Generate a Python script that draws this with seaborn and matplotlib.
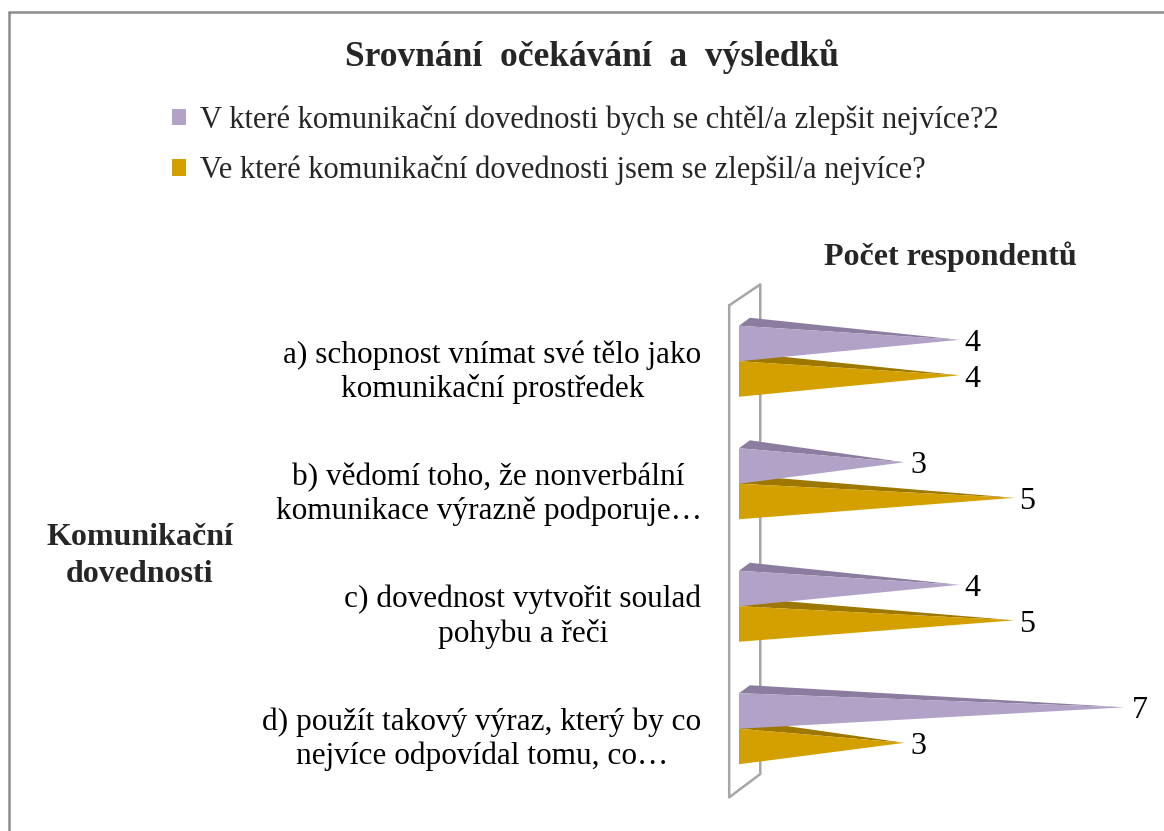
import pandas as pd
import matplotlib.pyplot as plt
import matplotlib.transforms as mtransforms
import seaborn as sns
from matplotlib.patches import Patch, Polygon
from matplotlib.lines import Line2D

# data
categories = [
    "a) schopnost vnímat své tělo jako\nkomunikační prostředek",
    "b) vědomí toho, že nonverbální\nkomunikace výrazně podporuje…",
    "c) dovednost vytvořit soulad\npohybu a řeči",
    "d) použít takový výraz, který by co\nnejvíce odpovídal tomu, co…",
]
series = [
    "V které komunikační dovednosti bych se chtěl/a zlepšit nejvíce?2",
    "Ve které komunikační dovednosti jsem se zlepšil/a nejvíce?",
]
expected = [4, 3, 4, 7]
improved = [4, 5, 5, 3]

PURPLE = '#B3A2C7'
PURPLE_TOP = '#8C7DA0'
GOLD = '#D4A000'
GOLD_TOP = '#9E7700'
WALL = '#A6A6A6'

sns.set_style('white')
plt.rcParams['font.family'] = ['Liberation Serif', 'DejaVu Serif']

df = pd.DataFrame({
    'cat': categories * 2,
    'series': [series[0]] * 4 + [series[1]] * 4,
    'value': expected + improved,
})

fig = plt.figure(figsize=(11.64, 8.31), dpi=100)
ax = fig.add_axes([739 / 1164, 1 - 790 / 831, 409 / 1164, 490 / 831])

sns.barplot(data=df, y='cat', x='value', hue='series', orient='h', width=0.58,
            palette=[PURPLE, GOLD], saturation=1, legend=False, ax=ax)

ax.set_xlim(0, 7.5)
ax.set_ylim(3.5, -0.5)

# turn flat bars into pyramid-like wedges
dx, dy = 0.2, 0.065
for p in list(ax.patches):
    x0, y0, w, h = p.get_x(), p.get_y(), p.get_width(), p.get_height()
    fc = p.get_facecolor()
    p.set_visible(False)
    is_purple = abs(fc[0] - 0xB3 / 255) < 0.02
    top_c = PURPLE_TOP if is_purple else GOLD_TOP
    z = 4 if is_purple else 3
    yc = y0 + h / 2
    tip = (w * 1.01, yc - 0.03)
    ax.add_patch(Polygon([(x0, y0), (x0 + dx, y0 - dy), tip], closed=True,
                         facecolor=top_c, edgecolor='none', zorder=z, clip_on=False))
    ax.add_patch(Polygon([(x0, y0), (x0, y0 + h), tip], closed=True,
                         facecolor=fc, edgecolor='none', zorder=z, clip_on=False))
    gap = 0.14 if w < 6 else 0.2
    ax.text(w + gap, yc, f"{w:g}", ha='left', va='center', fontsize=23,
            color='black', clip_on=False, zorder=5)

# back wall
wx = [-0.18, 0.39, 0.39, -0.18, -0.18]
wy = [-0.456, -0.627, 3.37, 3.56, -0.456]
ax.plot(wx, wy, color=WALL, lw=1.8, clip_on=False, zorder=1)

for s in ax.spines.values():
    s.set_visible(False)
ax.set_xticks([])
ax.set_xlabel('')
ax.set_ylabel('')
ax.tick_params(axis='y', length=0, pad=27, labelsize=22.5)
shift = mtransforms.ScaledTranslation(0, -5 / 100, fig.dpi_scale_trans)
for lab in ax.get_yticklabels():
    lab.set_multialignment('center')
    lab.set_color('black')
    lab.set_transform(lab.get_transform() + shift)

fig.text(592 / 1164, 1 - 57 / 831, 'Srovnání  očekávání  a  výsledků', ha='center', va='center',
         fontsize=25.5, fontweight='bold')
fig.text(950 / 1164, 1 - 257 / 831, 'Počet respondentů', ha='center', va='center',
         fontsize=23, fontweight='bold')
fig.text(140 / 1164, 1 - 556 / 831, 'Komunikační\ndovednosti', ha='center', va='center',
         fontsize=23, fontweight='bold', linespacing=1.35)

handles = [Patch(facecolor=PURPLE, edgecolor='none'), Patch(facecolor=GOLD, edgecolor='none')]
fig.legend(handles, series, loc='center left', bbox_to_anchor=(172 / 1164, 1 - 145 / 831),
           frameon=False, fontsize=22, borderpad=0, borderaxespad=0,
           handlelength=0.45, handleheight=0.45, handletextpad=0.45, labelspacing=0.68)

# figure border
fig.add_artist(Line2D([9 / 1164, 9 / 1164], [0, 1 - 12 / 831], color='#8C8C8C', lw=1.8))
fig.add_artist(Line2D([9 / 1164, 1], [1 - 12 / 831, 1 - 12 / 831], color='#8C8C8C', lw=1.8))

fig.savefig('out.png', dpi=100)
